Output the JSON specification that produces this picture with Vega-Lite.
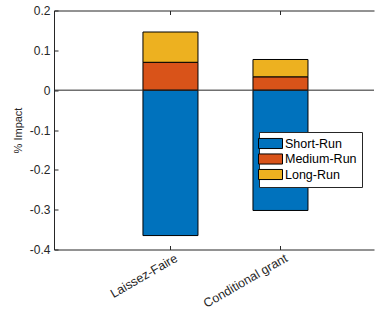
{
  "$schema": "https://vega.github.io/schema/vega-lite/v6.json",
  "width": 320,
  "height": 239,
  "autosize": {"type": "none"},
  "padding": {"left": 54, "top": 10.5, "right": 14, "bottom": 66.5},
  "background": "white",
  "config": {
    "view": {"stroke": null},
    "font": "Liberation Sans",
    "axis": {
      "domainColor": "#262626",
      "tickColor": "#262626",
      "labelColor": "#262626",
      "titleColor": "#262626",
      "labelFont": "Liberation Sans",
      "titleFont": "Liberation Sans",
      "labelFontSize": 12,
      "titleFontSize": 11,
      "titleFontWeight": "normal",
      "grid": false,
      "domainWidth": 1,
      "tickWidth": 1,
      "labelOverlap": false
    }
  },
  "data": {
    "values": [
      {"policy": "Laissez-Faire", "horizon": "Short-Run", "k": 1, "impact": -0.365},
      {"policy": "Laissez-Faire", "horizon": "Medium-Run", "k": 2, "impact": 0.07},
      {"policy": "Laissez-Faire", "horizon": "Long-Run", "k": 3, "impact": 0.076},
      {"policy": "Conditional grant", "horizon": "Short-Run", "k": 1, "impact": -0.302},
      {"policy": "Conditional grant", "horizon": "Medium-Run", "k": 2, "impact": 0.0335},
      {"policy": "Conditional grant", "horizon": "Long-Run", "k": 3, "impact": 0.0435}
    ]
  },
  "layer": [
    {
      "mark": {"type": "bar", "stroke": "#000000", "strokeWidth": 1},
      "encoding": {
        "x": {
          "field": "policy",
          "type": "nominal",
          "sort": ["Laissez-Faire", "Conditional grant"],
          "scale": {"paddingInner": 0.5, "paddingOuter": 0.7045, "align": 0.574},
          "axis": {
            "orient": "bottom",
            "title": null,
            "labelAngle": -30,
            "labelFontSize": 12.5,
            "tickSize": -4,
            "labelPadding": 6,
            "labelOffset": 3
          }
        },
        "y": {
          "field": "impact",
          "type": "quantitative",
          "stack": "zero",
          "scale": {"domain": [-0.4, 0.2], "nice": false, "zero": false},
          "axis": {
            "orient": "left",
            "title": "% Impact",
            "values": [-0.4, -0.3, -0.2, -0.1, 0, 0.1, 0.2],
            "format": ".1~f",
            "labelExpr": "replace(datum.label, '\u2212', '-')",
            "labelOverlap": false,
            "tickSize": -4,
            "labelPadding": 8,
            "titlePadding": 6
          }
        },
        "order": {"field": "k", "type": "quantitative"},
        "color": {
          "field": "horizon",
          "type": "nominal",
          "scale": {
            "domain": ["Short-Run", "Medium-Run", "Long-Run"],
            "range": ["#0072BD", "#D95319", "#EDB120"]
          },
          "legend": {
            "orient": "none",
            "legendX": 205,
            "legendY": 121.5,
            "title": null,
            "fillColor": "white",
            "strokeColor": "#262626",
            "padding": 5,
            "symbolType": "M-2,-0.84H2V0.84H-2Z",
            "symbolSize": 144,
            "symbolStrokeColor": "#000000",
            "symbolStrokeWidth": 1,
            "symbolOpacity": 1,
            "labelFont": "Liberation Sans",
            "labelFontSize": 12.5,
            "labelColor": "#000000",
            "labelOffset": 8,
            "rowPadding": 0.5
          }
        }
      }
    },
    {
      "data": {"values": [{"impact": 0}]},
      "mark": {"type": "rule", "color": "#262626", "strokeWidth": 1},
      "encoding": {
        "y": {
          "field": "impact",
          "type": "quantitative",
          "axis": {
            "orient": "left",
            "title": "% Impact",
            "values": [-0.4, -0.3, -0.2, -0.1, 0, 0.1, 0.2],
            "format": ".1~f",
            "labelExpr": "replace(datum.label, '\u2212', '-')",
            "labelOverlap": false,
            "tickSize": -4,
            "labelPadding": 8,
            "titlePadding": 6
          }
        }
      }
    },
    {
      "mark": {"type": "rule", "opacity": 0},
      "encoding": {
        "x": {
          "field": "policy",
          "type": "nominal",
          "sort": ["Laissez-Faire", "Conditional grant"],
          "axis": {"orient": "top", "title": null, "labels": false, "tickSize": -4}
        }
      }
    }
  ],
  "resolve": {"axis": {"x": "independent"}}
}
